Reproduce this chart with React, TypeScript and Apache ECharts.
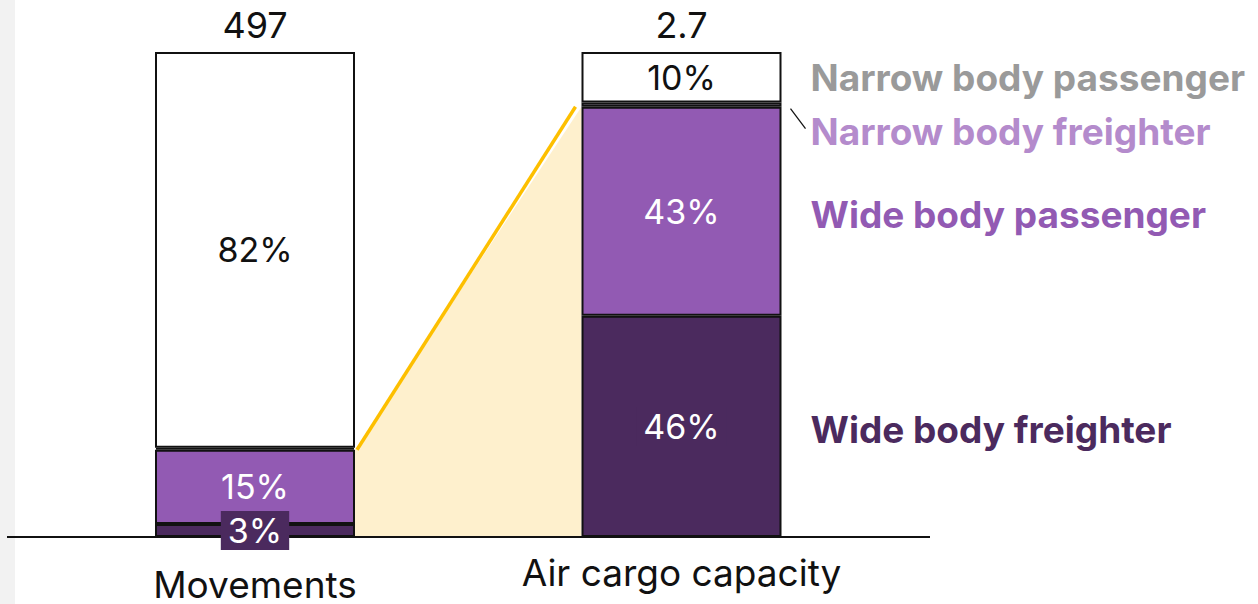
import React, { useEffect, useRef } from "react";
import * as echarts from "echarts";

const categories = ["Movements", "Air cargo capacity"];
const totals = ["497", "2.7"];
const wideFreighter = [2.7, 45.6];
const widePassenger = [15.3, 43.1];
const narrowFreighter = [0.4, 0.9];
const narrowPassenger = [81.6, 10.4];
const seriesNames = ["Wide body freighter", "Wide body passenger", "Narrow body freighter", "Narrow body passenger"];

const FONT = "Inter, 'Noto Sans', sans-serif";
const BAR_W = 200;

export default function App() {
  const ref = useRef<HTMLDivElement>(null);
  useEffect(() => {
    document.body.style.margin = "0";
    const chart = echarts.init(ref.current!, null, { renderer: "svg" });
    const fills = ["#4b2a5e", "#925ab3", "#d6c6e2", "#ffffff"];
    const nameColors = ["#4b2a5e", "#925ab3", "#b48bcc", "#9a9a9a"];
    const textColors = ["#ffffff", "#ffffff", "#ffffff", "#111111"];
    const nameOffsets = [[0, 3], [0, 3], [0, 27], [0, 0]];
    const allData = [wideFreighter, widePassenger, narrowFreighter, narrowPassenger];

    const barSeries: any[] = allData.map((d, si) => ({
      type: "bar",
      name: seriesNames[si],
      stack: "share",
      barWidth: BAR_W,
      barGap: "-100%",
      z: 3,
      data: d,
      itemStyle: { color: fills[si], borderColor: "#111", borderWidth: 2 },
      label: {
        show: si !== 2,
        position: "inside",
        fontFamily: FONT,
        fontSize: 34,
        color: textColors[si],
        formatter: (p: any) => Math.round(p.value) + "%",
        ...(si === 0 ? { backgroundColor: "#4b2a5e", padding: [3, 7, 2, 7] } : {}),
      },
    }));

    const nameSeries: any[] = allData.map((d, si) => ({
      type: "bar",
      stack: "names",
      barWidth: BAR_W,
      barGap: "-100%",
      z: 1,
      silent: true,
      itemStyle: { color: "transparent" },
      data: d.map((v, i) =>
        i === 1
          ? {
              value: v,
              label: {
                show: true,
                position: "right",
                distance: 29,
                offset: nameOffsets[si],
                formatter: seriesNames[si],
                fontFamily: FONT,
                fontWeight: "bold",
                fontSize: 37,
                color: nameColors[si],
              },
            }
          : { value: v, label: { show: false } }
      ),
    }));

    const bridge = {
      type: "custom",
      z: 0,
      silent: true,
      encode: { x: 0, y: 1 },
      data: [[0, wideFreighter[0] + widePassenger[0], wideFreighter[1] + widePassenger[1]]],
      renderItem: (params: any, api: any) => {
        const a = api.coord([0, api.value(1)]);
        const b = api.coord([1, api.value(2)]);
        const base = api.coord([0, 0])[1];
        const x1 = a[0] + BAR_W / 2;
        const x2 = b[0] - BAR_W / 2;
        return {
          type: "group",
          children: [
            {
              type: "polygon",
              shape: { points: [[x1, base], [x1, a[1]], [x2, b[1]], [x2, base]] },
              style: { fill: "#fef0cd" },
            },
            {
              type: "line",
              shape: { x1: x1 + 2, y1: a[1], x2: x2 - 6, y2: b[1] },
              style: { stroke: "#fdbf00", lineWidth: 3.5 },
            },
          ],
        };
      },
    };

    chart.setOption({
      animation: false,
      grid: { left: 41.75, right: 1258 - 894.75, top: 52, bottom: 67, outerBoundsMode: "none", containLabel: false },
      xAxis: [
        {
          type: "category",
          data: [
            { value: categories[0], textStyle: { padding: [19, 0, 0, 0] } },
            { value: categories[1], textStyle: { padding: [7, 0, 0, 0] } },
          ],
          axisLine: { show: false },
          axisTick: { show: false },
          axisLabel: { fontFamily: FONT, fontSize: 37, lineHeight: 37, color: "#111", margin: 10 },
        },
        {
          type: "category",
          position: "top",
          data: totals,
          axisLine: { show: false },
          axisTick: { show: false },
          axisLabel: { fontFamily: FONT, fontSize: 36, color: "#111", margin: 9 },
        },
      ],
      yAxis: { type: "value", min: 0, max: 100, show: false },
      series: [bridge, ...barSeries, ...nameSeries],
    });

    const base = chart.convertToPixel({ gridIndex: 0 }, [0, 0]) as number[];
    const nf = chart.convertToPixel({ gridIndex: 0 }, [
      1,
      wideFreighter[1] + widePassenger[1] + narrowFreighter[1] / 2,
    ]) as number[];
    chart.setOption({
      graphic: [
        { type: "rect", shape: { x: 0, y: 0, width: 15, height: 604 }, style: { fill: "#f2f2f2" }, z: -1 },
        {
          type: "line",
          shape: { x1: 7, y1: base[1], x2: 930, y2: base[1] },
          style: { stroke: "#111", lineWidth: 2 },
          z: 1,
        },
        {
          type: "line",
          shape: { x1: nf[0] + BAR_W / 2 + 9, y1: nf[1] + 4, x2: nf[0] + BAR_W / 2 + 24, y2: nf[1] + 24 },
          style: { stroke: "#111", lineWidth: 1.2 },
        },
      ],
    });

    return () => chart.dispose();
  }, []);
  return <div ref={ref} style={{ position: "absolute", left: 0, top: 0, width: 1258, height: 604, background: "#fff" }} />;
}
